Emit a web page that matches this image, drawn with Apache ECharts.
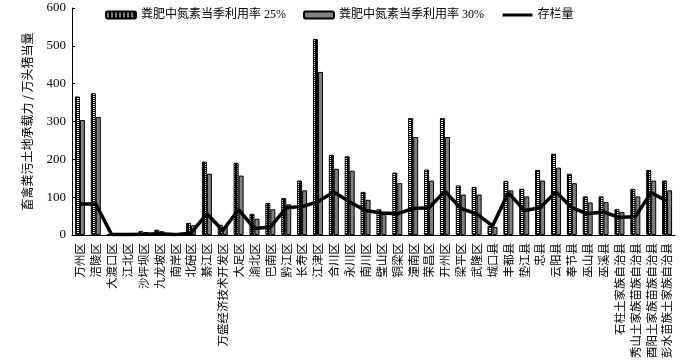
<!DOCTYPE html>
<html><head><meta charset="utf-8">
<script src="https://cdn.jsdelivr.net/npm/echarts@6/dist/echarts.min.js"></script>
<style>html,body{margin:0;padding:0;background:#fff}#c{width:700px;height:361px}</style>
</head><body><div id="c"></div>
<script>
var categories = ['万州区','涪陵区','大渡口区','江北区','沙坪坝区','九龙坡区','南岸区','北碚区','綦江区','万盛经济技术开发区','大足区','渝北区','巴南区','黔江区','长寿区','江津区','合川区','永川区','南川区','璧山区','铜梁区','潼南区','荣昌区','开州区','梁平区','武隆区','城口县','丰都县','垫江县','忠县','云阳县','奉节县','巫山县','巫溪县','石柱土家族自治县','秀山土家族苗族自治县','酉阳土家族苗族自治县','彭水苗族土家族自治县'];
var v25 = [366,375,1,2,10,14,5,32,194,27,191,56,85,98,144,518,212,208,114,68,165,309,173,309,131,127,24,143,122,172,215,162,102,102,68,122,172,144];
var v30 = [304,312,1,2,8,10,4,26,162,22,157,43,68,81,118,431,175,170,93,55,137,259,144,259,107,107,21,118,102,144,178,137,86,87,61,102,144,118];
var stock = [82,82,1,1,2,3,1,5,56,12,67,17,21,72,75,88,114,87,65,58,56,70,72,116,70,56,24,112,65,72,114,72,56,61,46,49,112,89];
var yTicks = [0,100,200,300,400,500,600];

var pc = document.createElement('canvas');
pc.width = 4; pc.height = 4;
var g = pc.getContext('2d');
g.fillStyle = '#000'; g.fillRect(0,0,4,4);
g.fillStyle = '#fff';
g.fillRect(1,0,2,1); g.fillRect(1,2,2,1);

var font = '"Liberation Serif","Noto Sans CJK SC",serif';
var chart = echarts.init(document.getElementById('c'));
chart.setOption({
  animation: false,
  textStyle: {fontFamily: font, color: '#000'},
  legend: {
    left: 100, top: 4, itemWidth: 30, itemHeight: 7, itemGap: 17,
    textStyle: {fontSize: 12, fontFamily: font, color: '#000'},
    data: [
      {name: '粪肥中氮素当季利用率 25%'},
      {name: '粪肥中氮素当季利用率 30%'},
      {name: '存栏量', itemStyle: {opacity: 0}, lineStyle: {width: 3}}
    ]
  },
  grid: {left: 72, right: 25, top: 8, bottom: 126},
  xAxis: {
    type: 'category', data: categories,
    axisLine: {lineStyle: {color: '#000', width: 1}},
    axisTick: {show: false},
    axisLabel: {
      interval: 0, rotate: 90, fontSize: 11.5, color: '#000', margin: 8,
      fontFamily: '"Noto Sans CJK SC",sans-serif'
    }
  },
  yAxis: {
    type: 'value', min: 0, max: 600, interval: 100,
    name: '畜禽粪污土地承载力 / 万头猪当量',
    nameLocation: 'middle', nameGap: 39, nameRotate: 90,
    nameTextStyle: {fontSize: 12, color: '#000', fontFamily: '"Noto Sans CJK SC",sans-serif'},
    axisLine: {show: true, lineStyle: {color: '#000', width: 1}},
    axisTick: {show: true, inside: true, length: 3, lineStyle: {color: '#000'}},
    splitLine: {show: false},
    axisLabel: {fontSize: 13, color: '#000', margin: 6, fontFamily: font,
      formatter: function (v) { return yTicks.indexOf(v) >= 0 ? String(v) : ''; }}
  },
  series: [
    {
      name: '粪肥中氮素当季利用率 25%', type: 'bar', data: v25,
      barWidth: 5, barGap: '0%',
      itemStyle: {color: {image: pc, repeat: 'repeat'}, borderColor: '#000', borderWidth: 1}
    },
    {
      name: '粪肥中氮素当季利用率 30%', type: 'bar', data: v30,
      barWidth: 5,
      itemStyle: {color: '#808080', borderColor: '#000', borderWidth: 1}
    },
    {
      name: '存栏量', type: 'line', data: stock,
      symbol: 'none', showSymbol: false,
      lineStyle: {color: '#000', width: 3.5},
      itemStyle: {color: '#000'}
    }
  ]
});
</script></body></html>
